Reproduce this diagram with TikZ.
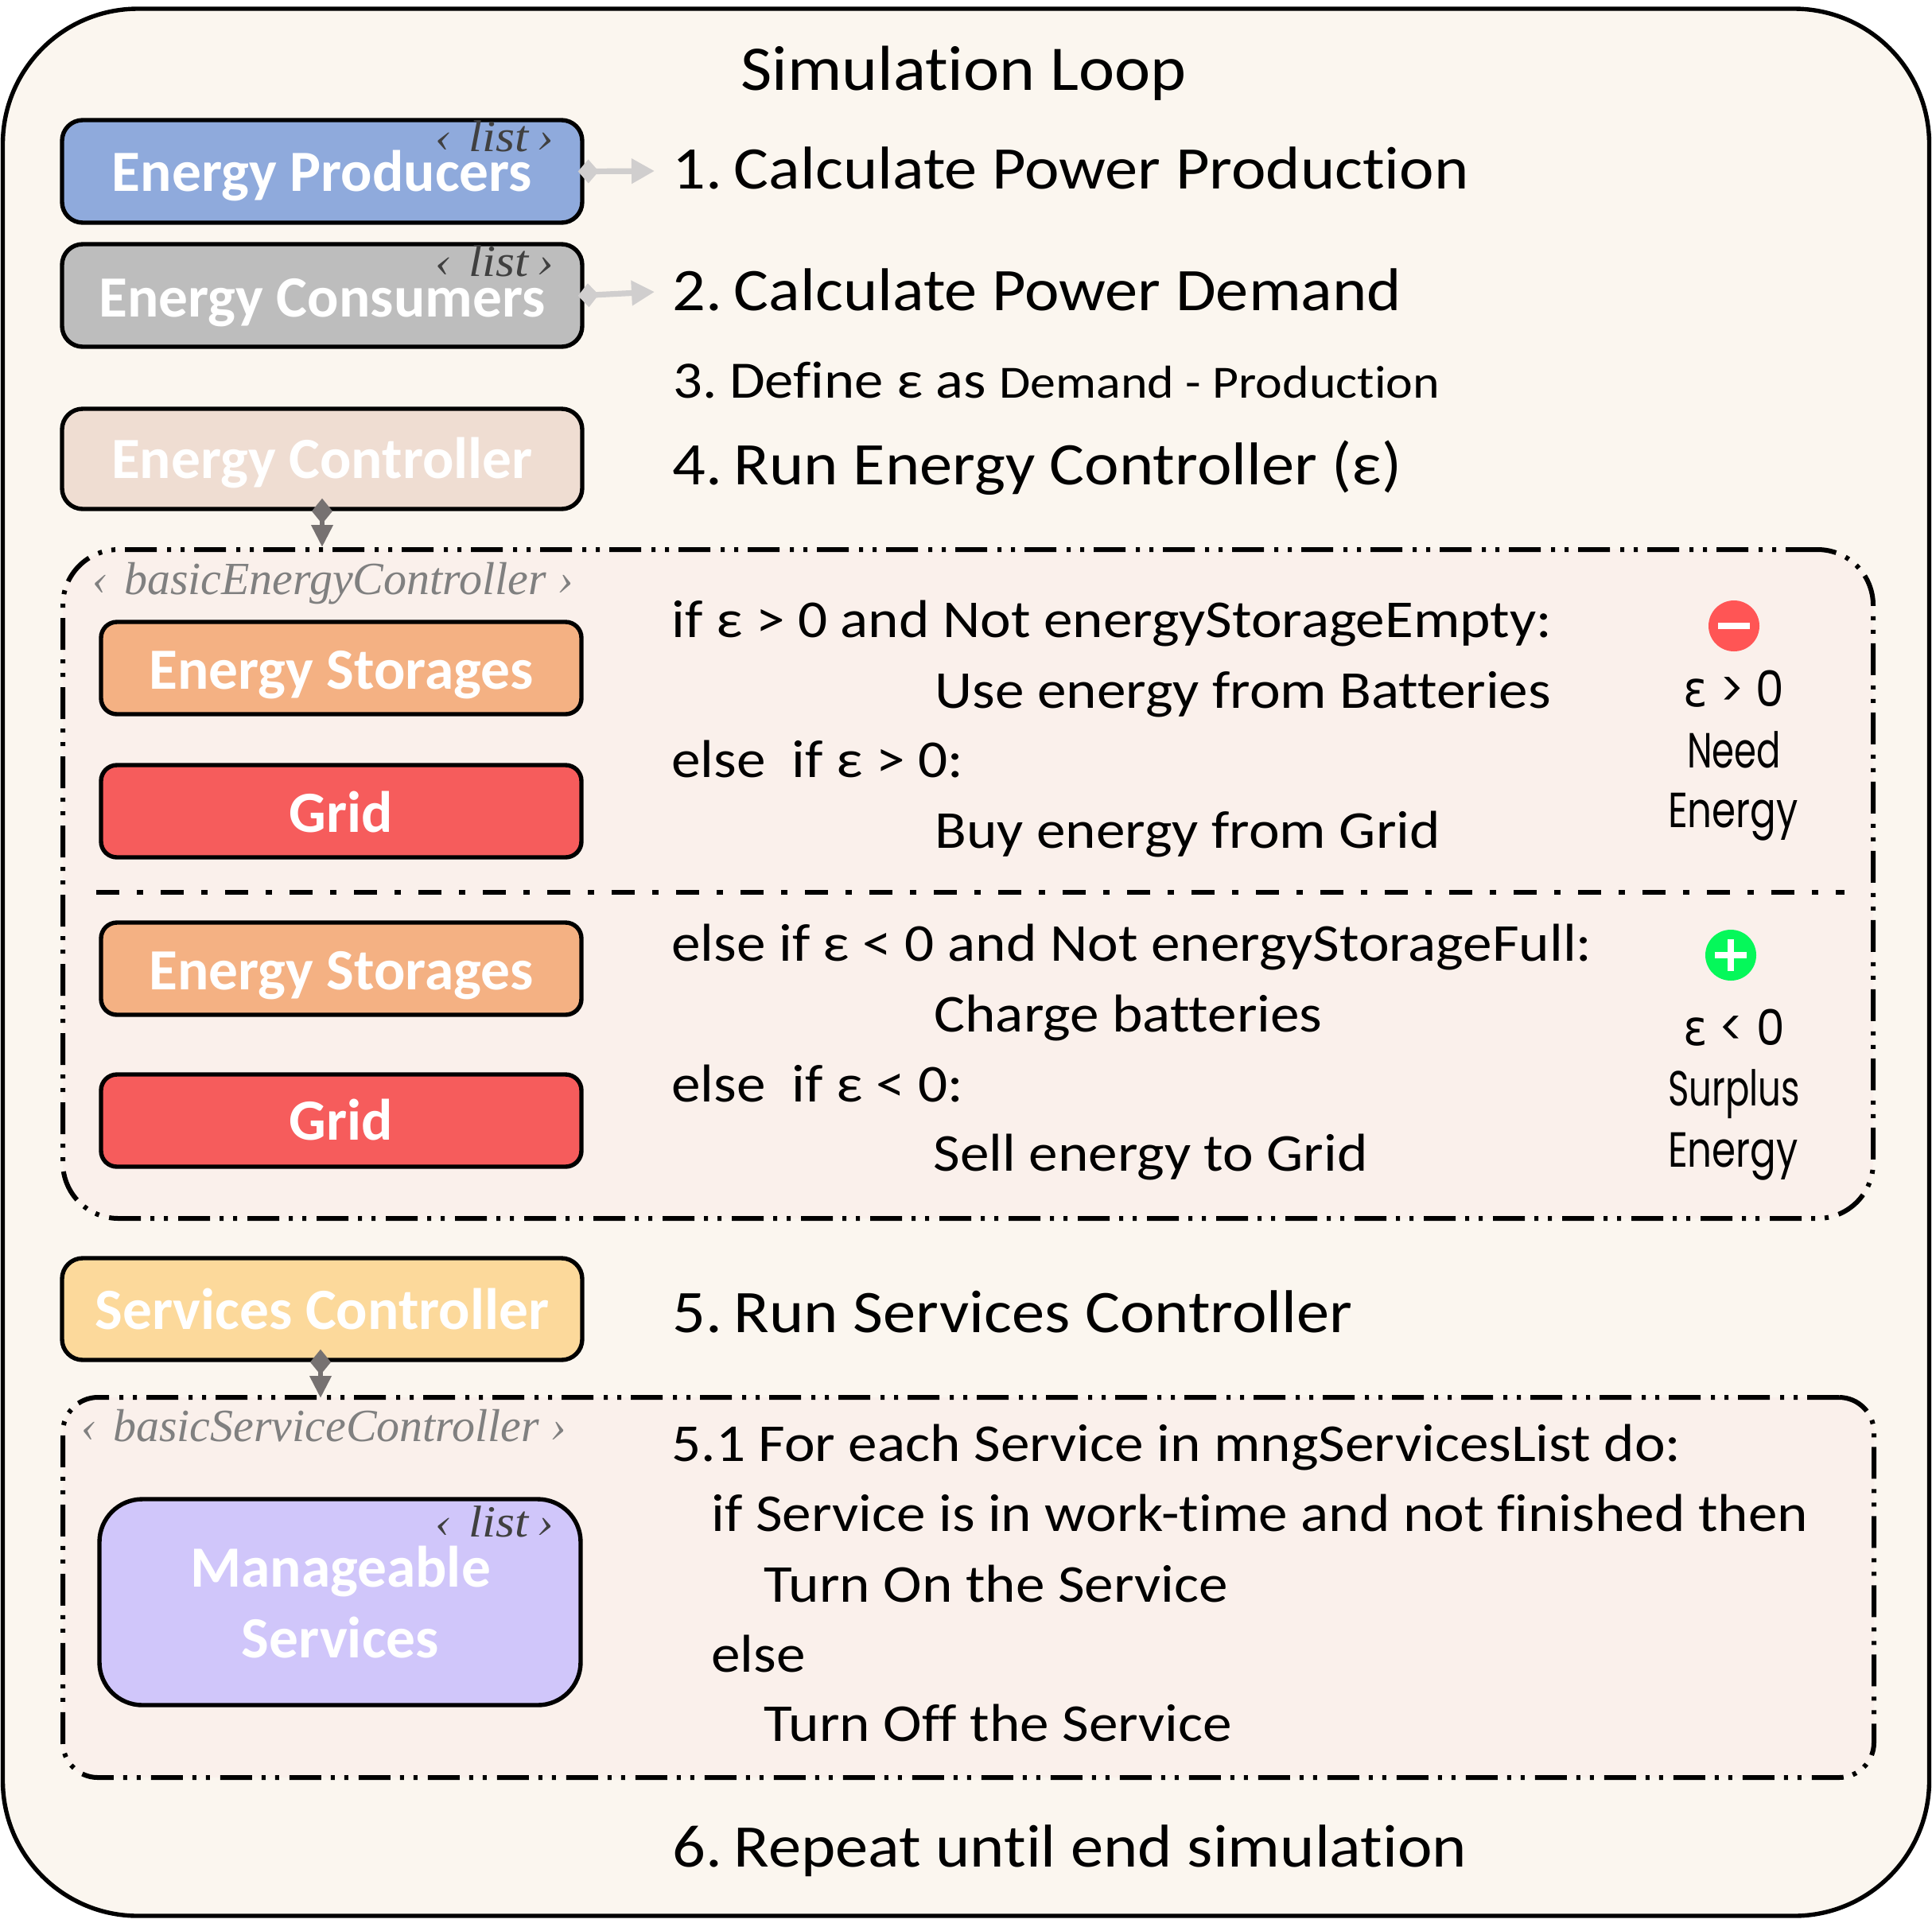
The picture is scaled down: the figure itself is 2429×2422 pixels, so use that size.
\documentclass[tikz,border=0pt]{standalone}
\usepackage{fontspec}
\setmainfont[Ligatures=NoCommon]{Carlito}
\newfontfamily\serifit{Liberation Serif}
\newfontfamily\geo{Poppins}
\newfontfamily\geog{DejaVu Sans}
\usetikzlibrary{arrows.meta}
\newcommand{\fs}[1]{\fontsize{#1}{#1}\selectfont}
\newcommand{\listmark}{‹ \kern.1em list\kern-.08em\ ›}
\newcommand{\numgap}{\kern-1.75pt\ }
\definecolor{bgouter}{HTML}{FBF6EF}
\definecolor{bginner}{HTML}{FAF0EB}
\definecolor{cblue}{HTML}{8FAADC}
\definecolor{cgray}{HTML}{BDBDBD}
\definecolor{cctrl}{HTML}{EFDDD2}
\definecolor{cstor}{HTML}{F4B183}
\definecolor{cgrid}{HTML}{F65C5C}
\definecolor{cserv}{HTML}{FCD99B}
\definecolor{cmng}{HTML}{D0C6FA}
\definecolor{cdark}{HTML}{767171}
\definecolor{clight}{HTML}{D0CECE}
\definecolor{cred}{HTML}{FF5555}
\definecolor{cgreen}{HTML}{05F85A}
\tikzset{
  x=0.5pt,y=-0.5pt,
  box/.style={draw=black,line width=2.7pt,rounded corners=13pt,inner sep=0pt},
  smallbox/.style={box,rounded corners=10pt},
  dbox/.style={draw=black,fill=bginner,line width=3pt,inner sep=0pt,
    dash pattern=on 20pt off 6pt on 2.5pt off 6pt on 2.5pt off 6.5pt},
  boxlabel/.style={text=white,anchor=base,inner sep=0pt,font=\bfseries\fs{36.7}},
  listlabel/.style={text=black!75,anchor=base east,inner sep=0pt,xscale=1.1,font=\serifit\itshape\fs{28}},
  classlabel/.style={text=black!50,anchor=base west,inner sep=0pt,font=\serifit\itshape\fs{29}},
  steptext/.style={anchor=base west,inner sep=0pt,text=black,xscale=1.085,font=\fs{38}},
  codetext/.style={anchor=base west,inner sep=0pt,text=black,xscale=1.093,font=\fs{33.5}},
  sidetext/.style={anchor=base,inner sep=0pt,text=black,xscale=0.78,font=\geo\fs{31}},
  sidetextw/.style={sidetext,xscale=1.17},
  sidetextn/.style={sidetext,xscale=0.93},
  lightarrow/.style={draw=clight,line width=3.6pt,{Diamond[length=13pt,width=15pt]}-{Triangle[length=14.5pt,width=15pt]}},
  darkarrow/.style={draw=cdark,line width=3.4pt,{Diamond[length=16pt,width=13pt]}-{Triangle[length=14pt,width=13pt]}},
  signdisc/.style={circle,minimum size=32pt,inner sep=0pt},
}
\begin{document}
\begin{tikzpicture}
\useasboundingbox (0,0) rectangle (2429,2422);
\node[draw=black,fill=bgouter,line width=2.7pt,rounded corners=85pt,minimum width=1211pt,minimum height=1199pt,inner sep=0pt] (outer) at (1214.5,1210) {};
\node[steptext,xscale=0.985,font=\fs{40}] (title) at (931,113) {Simulation Loop};
% top boxes
\node[box,fill=cblue,minimum width=327pt,minimum height=64.5pt] (prod) at (405,215.5) {};
\node[boxlabel] (prodl) at (405,240) {Energy Producers};
\node[listlabel] (prodlist) at (696,190) {\listmark};
\node[box,fill=cgray,minimum width=327pt,minimum height=64.5pt] (cons) at (405,371.5) {};
\node[boxlabel] (consl) at (405,398) {Energy Consumers};
\node[listlabel] (conslist) at (696,347) {\listmark};
\node[box,fill=cctrl,minimum width=327pt,minimum height=63pt] (ctrl) at (405,577) {};
\node[boxlabel] (ctrll) at (405,601) {Energy Controller};
\node[steptext] (s1) at (845,237) {1.\numgap Calculate Power Production};
\node[steptext] (s2) at (845,390) {2.\numgap Calculate Power Demand};
\node[steptext,xscale=1.015,font=\fs{33}] (s3) at (846,500) {3.\kern-.4pt\ Define ε as \fs{29}Demand - Production};
\node[steptext] (s4) at (845,609) {4.\numgap Run Energy Controller (ε)};
\coordinate (a1) at (823,215);
\coordinate (a2) at (823,367);
\draw[lightarrow,shorten <=-4pt] (prod.east) -- (a1);
\draw[lightarrow,shorten <=-4pt] (cons.east) -- (a2);
% energy controller block
\node[dbox,rounded corners=35pt,minimum width=1138pt,minimum height=420.5pt] (ebox) at (1217,1111.5) {};
\draw[darkarrow,shorten <=-8pt] (ctrl.south) -- (ctrl.south |- ebox.north);
\node[classlabel] (el) at (116,747) {‹\kern.1em\ basicEnergyController ›};
\node[smallbox,fill=cstor,minimum width=302pt,minimum height=58pt] (st1) at (429,840) {};
\node[boxlabel] (st1l) at (429,866) {Energy Storages};
\node[smallbox,fill=cgrid,minimum width=302pt,minimum height=58pt] (gr1) at (429,1020) {};
\node[boxlabel] (gr1l) at (429,1046) {Grid};
\node[smallbox,fill=cstor,minimum width=302pt,minimum height=58pt] (st2) at (429,1218) {};
\node[boxlabel] (st2l) at (429,1244) {Energy Storages};
\node[smallbox,fill=cgrid,minimum width=302pt,minimum height=58pt] (gr2) at (429,1409) {};
\node[boxlabel] (gr2l) at (429,1433) {Grid};
\coordinate (d1) at (121,1122);
\coordinate (d2) at (2319,1122);
\draw[line width=3.4pt,dash pattern=on 14.5pt off 11pt on 4pt off 11pt] (d1) -- (d2);
\node[codetext] (c1) at (844,801) {if ε > 0 and Not energyStorageEmpty:};
\node[codetext] (c2) at (1175,890) {Use energy from Batteries};
\node[codetext] (c3) at (844,977) {else\ \ if ε > 0:};
\node[codetext] (c4) at (1175,1066) {Buy energy from Grid};
\node[codetext] (c5) at (844,1208) {else if ε < 0 and Not energyStorageFull:};
\node[codetext] (c6) at (1174,1297) {Charge batteries};
\node[codetext] (c7) at (844,1385) {else\ \ if ε < 0:};
\node[codetext] (c8) at (1173,1472) {Sell energy to Grid};
% signs
\node[signdisc,fill=cred] (minus) at (2180,787) {};
\fill[white] ([xshift=-10pt,yshift=-1.8pt]minus.center) rectangle ([xshift=10pt,yshift=1.8pt]minus.center);
\node[sidetextw] (n1) at (2180,888) {{\geog ε} > 0};
\node[sidetextn] (n2) at (2180,965) {Need};
\node[sidetext] (n3) at (2179,1040) {Energy};
\node[signdisc,fill=cgreen] (plus) at (2176,1201) {};
\fill[white] ([xshift=-10pt,yshift=-1.8pt]plus.center) rectangle ([xshift=10pt,yshift=1.8pt]plus.center);
\fill[white] ([xshift=-1.8pt,yshift=-10pt]plus.center) rectangle ([xshift=1.8pt,yshift=10pt]plus.center);
\node[sidetextw] (n4) at (2180,1314) {{\geog ε} < 0};
\node[sidetextn] (n5) at (2180,1390) {Surplus};
\node[sidetext] (n6) at (2179,1467) {Energy};
% services
\node[box,fill=cserv,minimum width=327pt,minimum height=64pt] (serv) at (405,1646) {};
\node[boxlabel] (servl) at (405,1671) {Services Controller};
\node[steptext] (s5) at (845,1675) {5.\numgap Run Services Controller};
\node[dbox,rounded corners=22pt,minimum width=1138.5pt,minimum height=239pt] (sbox) at (1217.5,1996) {};
\draw[darkarrow,shorten <=-8pt,shorten >=-2pt] ([xshift=-1pt]serv.south) -- ([xshift=-1pt]serv.south |- sbox.north);
\node[classlabel] (sl) at (102,1812) {‹\kern.1em\ basicServiceController ›};
\node[box,fill=cmng,rounded corners=27pt,minimum width=302.5pt,minimum height=129.5pt] (mng) at (427.5,2014.5) {};
\node[boxlabel] (mngl1) at (428,1995) {Manageable};
\node[boxlabel] (mngl2) at (428,2084) {Services};
\node[listlabel] (mnglist) at (696,1932) {\listmark};
\node[codetext] (t1) at (844,1837) {5.1 For each Service in mngServicesList do:};
\node[codetext] (t2) at (894,1925) {if Service is in work-time and not finished then};
\node[codetext] (t3) at (960,2014) {Turn On the Service};
\node[codetext] (t4) at (894,2102) {else};
\node[codetext] (t5) at (960,2189) {Turn Off the Service};
\node[steptext] (s6) at (845,2347) {6.\numgap Repeat until end simulation};
\end{tikzpicture}
\end{document}
